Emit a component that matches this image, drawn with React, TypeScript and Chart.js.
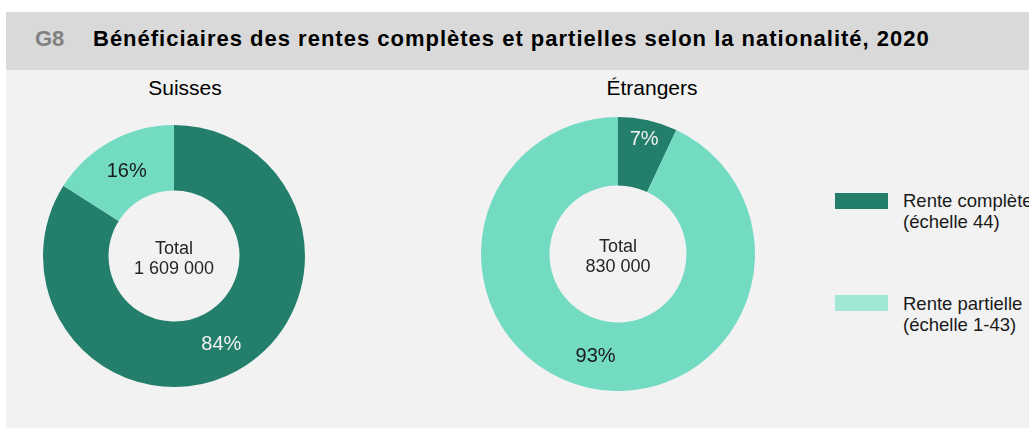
import React, { useEffect, useRef } from "react";
import { Chart, registerables } from "chart.js";

Chart.register(...registerables);

const figureId = "G8";
const figureTitle = "Bénéficiaires des rentes complètes et partielles selon la nationalité, 2020";
const categories = ["Rente complète (échelle 44)", "Rente partielle (échelle 1-43)"];
const legendLines = [
  ["Rente complète", "(échelle 44)"],
  ["Rente partielle", "(échelle 1-43)"],
];
const groups = ["Suisses", "Étrangers"];
const suissesValues = [84, 16];
const etrangersValues = [7, 93];
const totals = ["1 609 000", "830 000"];
const sliceColors = ["#237f6b", "#74dbc3"];
const legendColors = ["#237f6b", "#a2e6d4"];
const labelColors = ["#f2f2f2", "#1a1a1a"];

const FONT = '"Liberation Sans", Arial, Helvetica, sans-serif';

const donutLabels = {
  id: "donutLabels",
  afterDatasetsDraw(chart: any, _args: any, opts: any) {
    const ctx = chart.ctx;
    const meta = chart.getDatasetMeta(0);
    const data = chart.data.datasets[0].data as number[];
    const sum = data.reduce((a, b) => a + b, 0);
    ctx.save();
    ctx.textAlign = "center";
    ctx.textBaseline = "middle";
    ctx.font = `20px ${FONT}`;
    meta.data.forEach((arc: any, i: number) => {
      const p = arc.getProps(["startAngle", "endAngle", "innerRadius", "outerRadius", "x", "y"], true);
      const mid = (p.startAngle + p.endAngle) / 2;
      const frac = data[i] / sum;
      const r = p.innerRadius + (p.outerRadius - p.innerRadius) * (frac < 0.1 ? 0.75 : 0.5);
      ctx.fillStyle = labelColors[i];
      ctx.fillText(`${data[i]}%`, p.x + r * Math.cos(mid), p.y + r * Math.sin(mid) + 2);
    });
    const a0 = meta.data[0] as any;
    ctx.fillStyle = "#262626";
    ctx.font = `18px ${FONT}`;
    ctx.fillText("Total", a0.x, a0.y - 6.5);
    ctx.fillText(opts.total, a0.x, a0.y + 13.5);
    ctx.restore();
  },
};

function Donut(props: { values: number[]; total: string; size: number; left: number; top: number }) {
  const ref = useRef<HTMLCanvasElement>(null);
  useEffect(() => {
    if (!ref.current) return;
    const chart = new Chart(ref.current, {
      type: "doughnut",
      data: {
        labels: categories,
        datasets: [
          {
            data: props.values,
            backgroundColor: sliceColors,
            borderWidth: 0,
            hoverOffset: 0,
            offset: 0,
          },
        ],
      },
      options: {
        animation: false,
        responsive: false,
        cutout: "50%",
        layout: { padding: 0 },
        events: [],
        plugins: {
          legend: { display: false },
          tooltip: { enabled: false },
          title: { display: false },
          // @ts-ignore
          donutLabels: { total: props.total },
        },
      },
      plugins: [donutLabels as any],
    });
    return () => chart.destroy();
  }, []);
  return (
    <canvas
      ref={ref}
      width={props.size}
      height={props.size}
      style={{ position: "absolute", left: props.left, top: props.top, width: props.size, height: props.size }}
    />
  );
}

export default function App() {
  return (
    <div
      style={{
        position: "fixed",
        left: 0,
        top: 0,
        width: 1029,
        height: 428,
        overflow: "hidden",
        background: "#ffffff",
        fontFamily: FONT,
      }}
    >
      <div style={{ position: "absolute", left: 6, top: 12, width: 1023, height: 58, background: "#d9d9d9" }} />
      <div style={{ position: "absolute", left: 6, top: 70, width: 1023, height: 358, background: "#f2f2f2" }} />
      <div
        style={{
          position: "absolute",
          left: 35,
          top: 10,
          height: 58,
          display: "flex",
          alignItems: "center",
          fontSize: 22,
          fontWeight: "bold",
          whiteSpace: "nowrap",
        }}
      >
        <span style={{ color: "#808080", width: 58, display: "inline-block" }}>{figureId}</span>
        <span style={{ color: "#000000", letterSpacing: 1 }}>{figureTitle}</span>
      </div>
      <div
        style={{
          position: "absolute",
          left: 85,
          width: 200,
          top: 75,
          height: 26,
          lineHeight: "26px",
          textAlign: "center",
          fontSize: 21,
          color: "#000",
        }}
      >
        {groups[0]}
      </div>
      <div
        style={{
          position: "absolute",
          left: 552,
          width: 200,
          top: 75,
          height: 26,
          lineHeight: "26px",
          textAlign: "center",
          fontSize: 21,
          color: "#000",
        }}
      >
        {groups[1]}
      </div>
      <Donut values={suissesValues} total={totals[0]} size={262} left={43} top={125} />
      <Donut values={etrangersValues} total={totals[1]} size={274} left={481} top={117} />
      {legendLines.map((lines, i) => (
        <React.Fragment key={i}>
          <div
            style={{
              position: "absolute",
              left: 835,
              top: 193 + i * 102,
              width: 53,
              height: 16,
              background: legendColors[i],
            }}
          />
          <div
            style={{
              position: "absolute",
              left: 903,
              top: 190 + i * 103,
              fontSize: 18.5,
              lineHeight: "21px",
              color: "#1a1a1a",
              whiteSpace: "nowrap",
            }}
          >
            {lines.map((l, j) => (
              <div key={j}>{l}</div>
            ))}
          </div>
        </React.Fragment>
      ))}
    </div>
  );
}
